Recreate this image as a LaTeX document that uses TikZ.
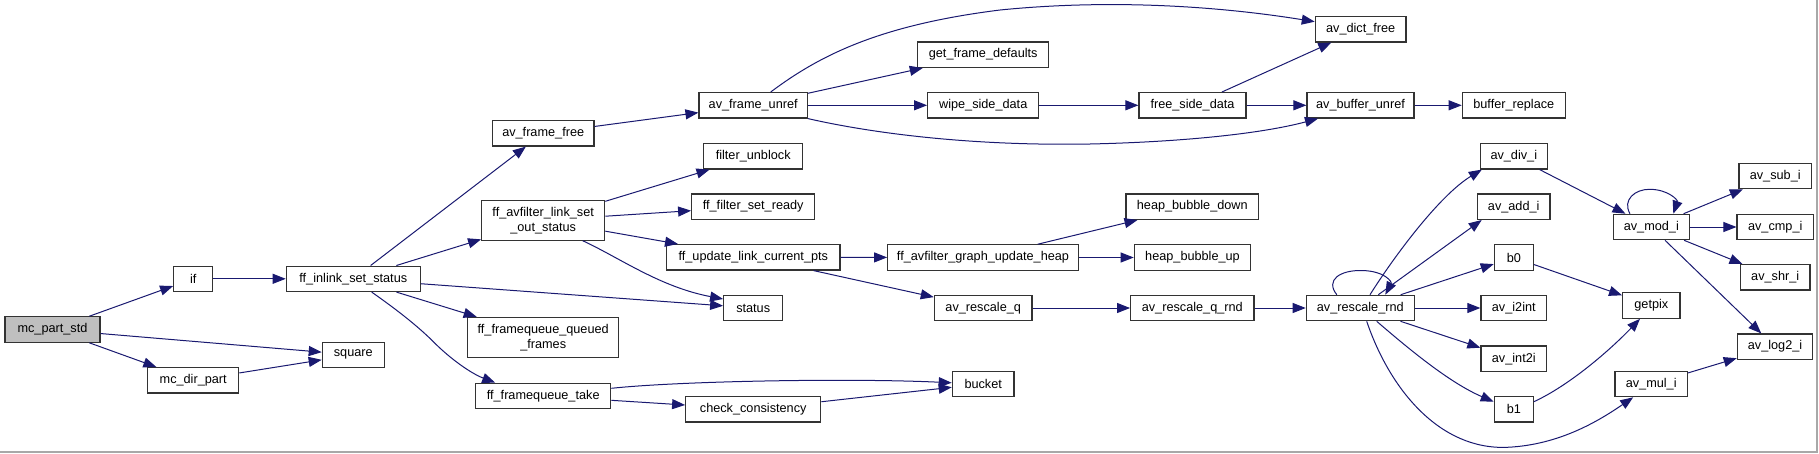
\documentclass[tikz,border=0pt]{standalone}
\usepackage{fontspec}
\setmainfont{Liberation Sans}
\usetikzlibrary{arrows.meta}
\definecolor{edgec}{HTML}{191970}
\definecolor{boxline}{HTML}{333333}
\definecolor{mainfill}{HTML}{BFBFBF}
\definecolor{framec}{HTML}{A8A8A8}
\tikzset{
  box/.style={draw=boxline, line width=1.2pt, fill=white, inner sep=0pt,
    minimum height=25.4pt, align=center, font=\fontsize{12.7}{15}\selectfont},
  box2/.style={box, minimum height=39.8pt},
  edge/.style={draw=edgec, line width=1pt, -{Triangle[length=13pt,width=10pt]}}
}
\begin{document}
\begin{tikzpicture}[x=1pt,y=-1pt]
\useasboundingbox (0,0) rectangle (1819,453);
\draw[framec, line width=1.5pt] (1817,0) -- (1817,452) -- (0,452);
% nodes
\node[box, minimum width=95pt, fill=mainfill] (mcpart) at (52.5,329.5) {mc\_part\_std};
\node[box, minimum width=39pt] (if) at (193.2,278.8) {if};
\node[box, minimum width=134pt] (inlink) at (353.3,278.8) {ff\_inlink\_set\_status};
\node[box, minimum width=62pt] (square) at (353.3,354.8) {square};
\node[box, minimum width=91pt] (mcdir) at (193.2,380.3) {mc\_dir\_part};
\node[box, minimum width=101.7pt] (frfree) at (543.2,133.3) {av\_frame\_free};
\node[box2, minimum width=123pt] (outstatus) at (543.2,220.2) {ff\_avfilter\_link\_set\\\_out\_status};
\node[box2, minimum width=151pt] (queued) at (543.2,337.3) {ff\_framequeue\_queued\\\_frames};
\node[box, minimum width=135pt] (take) at (543.2,396) {ff\_framequeue\_take};
\node[box, minimum width=108.3pt] (unref) at (753.2,105.3) {av\_frame\_unref};
\node[box, minimum width=99pt] (unblock) at (753.2,156.3) {filter\_unblock};
\node[box, minimum width=123pt] (ready) at (753.2,206.7) {ff\_filter\_set\_ready};
\node[box, minimum width=173.3pt] (curpts) at (753.3,257.3) {ff\_update\_link\_current\_pts};
\node[box, minimum width=59pt] (status) at (753.2,308) {status};
\node[box, minimum width=135pt] (check) at (753.2,409.3) {check\_consistency};
\node[box, minimum width=131pt] (getdef) at (983.2,54.7) {get\_frame\_defaults};
\node[box, minimum width=111pt] (wipe) at (983.2,105.3) {wipe\_side\_data};
\node[box, minimum width=190.6pt] (heap) at (983,257.5) {ff\_avfilter\_graph\_update\_heap};
\node[box, minimum width=97.7pt] (rq) at (983.2,308) {av\_rescale\_q};
\node[box, minimum width=61.7pt] (bucket) at (983.2,383.8) {bucket};
\node[box, minimum width=107pt] (freeside) at (1192.5,105.3) {free\_side\_data};
\node[box, minimum width=132.7pt] (hdown) at (1192.3,206.7) {heap\_bubble\_down};
\node[box, minimum width=116.4pt] (hup) at (1192.5,257.5) {heap\_bubble\_up};
\node[box, minimum width=123.3pt] (rqrnd) at (1192.3,308) {av\_rescale\_q\_rnd};
\node[box, minimum width=90.7pt] (dict) at (1360.7,29.3) {av\_dict\_free};
\node[box, minimum width=107pt] (bufunref) at (1360.5,105.3) {av\_buffer\_unref};
\node[box, minimum width=108pt] (rnd) at (1360.3,308) {av\_rescale\_rnd};
\node[box, minimum width=103pt] (bufrep) at (1513.8,105.3) {buffer\_replace};
\node[box, minimum width=67pt] (divi) at (1513.8,156.3) {av\_div\_i};
\node[box, minimum width=72.7pt] (addi) at (1513.7,206.7) {av\_add\_i};
\node[box, minimum width=39pt] (b0) at (1513.8,257.5) {b0};
\node[box, minimum width=65.7pt] (i2int) at (1513.8,308) {av\_i2int};
\node[box, minimum width=65.7pt] (int2i) at (1513.8,358.7) {av\_int2i};
\node[box, minimum width=39pt] (b1) at (1513.8,409.3) {b1};
\node[box, minimum width=76pt] (modi) at (1651.3,227) {av\_mod\_i};
\node[box, minimum width=57.3pt] (getpix) at (1651.3,305.5) {getpix};
\node[box, minimum width=72.3pt] (muli) at (1651.2,384) {av\_mul\_i};
\node[box, minimum width=72.3pt] (subi) at (1775.2,176) {av\_sub\_i};
\node[box, minimum width=76.3pt] (cmpi) at (1775.2,227) {av\_cmp\_i};
\node[box, minimum width=69.7pt] (shri) at (1775.2,277.3) {av\_shr\_i};
\node[box, minimum width=75.4pt] (log2i) at (1775,346.7) {av\_log2\_i};
% edges
\draw[edge] (mcpart) -- (if);
\draw[edge] (mcpart) -- (square);
\draw[edge] (mcpart) -- (mcdir);
\draw[edge] (mcdir) -- (square);
\draw[edge] (if) -- (inlink);
\draw[edge] (inlink) -- (frfree);
\draw[edge] (inlink) -- (outstatus);
\draw[edge] (inlink) -- (status);
\draw[edge] (inlink) -- (queued);
\draw[edge] ([xshift=18.4pt]inlink.south) .. controls (400,312) and (420,328) .. (436.7,345) .. controls (450,358) and (470,373) .. ([xshift=-48pt]take.north);
\draw[edge] (frfree) -- (unref);
\draw[edge] ([xshift=17.5pt]unref.north) .. controls (820,55) and (880,25) .. (1000,10) .. controls (1120,-2) and (1230,8) .. ([yshift=7.6pt]dict.west);
\draw[edge] (unref) -- (getdef);
\draw[edge] (unref) -- (wipe);
\draw[edge] (unref.south east) .. controls (880,135) and (980,146) .. (1090,144) .. controls (1180,142) and (1260,134) .. ([xshift=-42.5pt]bufunref.south);
\draw[edge] (wipe) -- (freeside);
\draw[edge] (freeside) -- (dict);
\draw[edge] (freeside) -- (bufunref);
\draw[edge] (bufunref) -- (bufrep);
\draw[edge] (outstatus) -- (unblock);
\draw[edge] (outstatus) -- (ready);
\draw[edge] (outstatus) -- (curpts);
\draw[edge] ([xshift=39.5pt]outstatus.south) .. controls (620,258) and (660,287) .. ([yshift=9pt]status.west);
\draw[edge] (curpts) -- (heap);
\draw[edge] (curpts) -- (rq);
\draw[edge] (heap) -- (hdown);
\draw[edge] (heap) -- (hup);
\draw[edge] (rq) -- (rqrnd);
\draw[edge] (rqrnd) -- (rnd);
\draw[edge] ([xshift=-23.5pt]rnd.north) .. controls (1325,280) and (1340,270) .. (1362,270.5) .. controls (1385,271) and (1392,282) .. ([xshift=25pt]rnd.north);
\draw[edge] ([xshift=9.7pt]rnd.north) .. controls (1395,255) and (1440,195) .. ([xshift=-32pt]divi.south);
\draw[edge] ([xshift=18pt]rnd.north) -- ([xshift=-32pt]addi.south);
\draw[edge] (rnd) -- (b0);
\draw[edge] (rnd) -- (i2int);
\draw[edge] (rnd) -- (int2i);
\draw[edge] ([xshift=16.4pt]rnd.south) .. controls (1410,350) and (1450,383) .. ([yshift=7.6pt]b1.west);
\draw[edge] ([xshift=6.4pt]rnd.south) .. controls (1390,390) and (1440,450) .. (1507,447.3) .. controls (1560,445) and (1600,420) .. ([xshift=-18pt]muli.south);
\draw[edge] (divi) -- (modi);
\draw[edge] ([xshift=-21.3pt]modi.north) .. controls (1622,200) and (1635,189) .. (1650,189.3) .. controls (1668,189.5) and (1678,200) .. ([xshift=22pt]modi.north);
\draw[edge] (modi) -- (subi);
\draw[edge] (modi) -- (cmpi);
\draw[edge] (modi) -- (shri);
\draw[edge] (modi) -- (log2i);
\draw[edge] (b0) -- (getpix);
\draw[edge] ([yshift=7.6pt]b1.east) .. controls (1570,385) and (1610,350) .. ([xshift=-11.3pt]getpix.south);
\draw[edge] (muli) -- (log2i);
\draw[edge] ([yshift=7.7pt]take.east) .. controls (680,381) and (850,378) .. ([yshift=1pt]bucket.west);
\draw[edge] (take) -- (check);
\draw[edge] (check) -- (bucket);
\end{tikzpicture}
\end{document}
